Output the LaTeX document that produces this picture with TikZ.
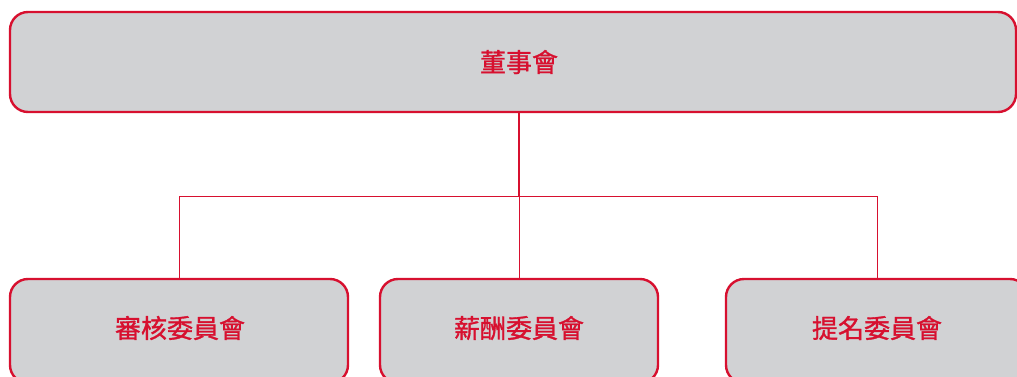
\documentclass[tikz,border=0pt]{standalone}
\usepackage{fontspec}
\newfontfamily\cjk{Noto Sans CJK TC}[FakeBold=1.2]
\definecolor{boxred}{HTML}{D7102F}
\definecolor{boxgray}{HTML}{D1D2D4}
\begin{document}
\begin{tikzpicture}[x=1pt,y=1pt,
  orgbox/.style={draw=boxred, line width=2.4pt, fill=boxgray, rounded corners=18pt, inner sep=0pt},
  orgtext/.style={font=\cjk\fontsize{26}{30}\selectfont, text=boxred, inner sep=0pt},
  thick link/.style={draw=boxred, line width=2pt},
  thin link/.style={draw=boxred, line width=1pt}]
\useasboundingbox (0,0) rectangle (1017,376);
\begin{scope}
\clip (0,0) rectangle (1017,376);
\node[orgbox, minimum width=1006pt, minimum height=100pt] (board) at (513,314) {};
\node[orgtext] (boardt) at (519,314) {董事會};
\node[orgbox, minimum width=338pt, minimum height=104pt] (audit) at (179,45) {};
\node[orgtext] (auditt) at (180,48) {審核委員會};
\node[orgbox, minimum width=278pt, minimum height=104pt] (remun) at (519,45) {};
\node[orgtext] (remunt) at (519,48) {薪酬委員會};
\node[orgbox, minimum width=302pt, minimum height=104pt] (nomin) at (877,45) {};
\node[orgtext] (nomint) at (877,48) {提名委員會};
\coordinate (hub) at (519,180);
\coordinate (hl) at (179,180);
\coordinate (hr) at (877,180);
\draw[thick link] (519,264) -- (hub);
\draw[thin link] (hl) -- (hr);
\draw[thin link] (hl) -- (audit.north);
\draw[thin link] (hub) -- (remun.north);
\draw[thin link] (hr) -- (nomin.north);
\end{scope}
\end{tikzpicture}
\end{document}
